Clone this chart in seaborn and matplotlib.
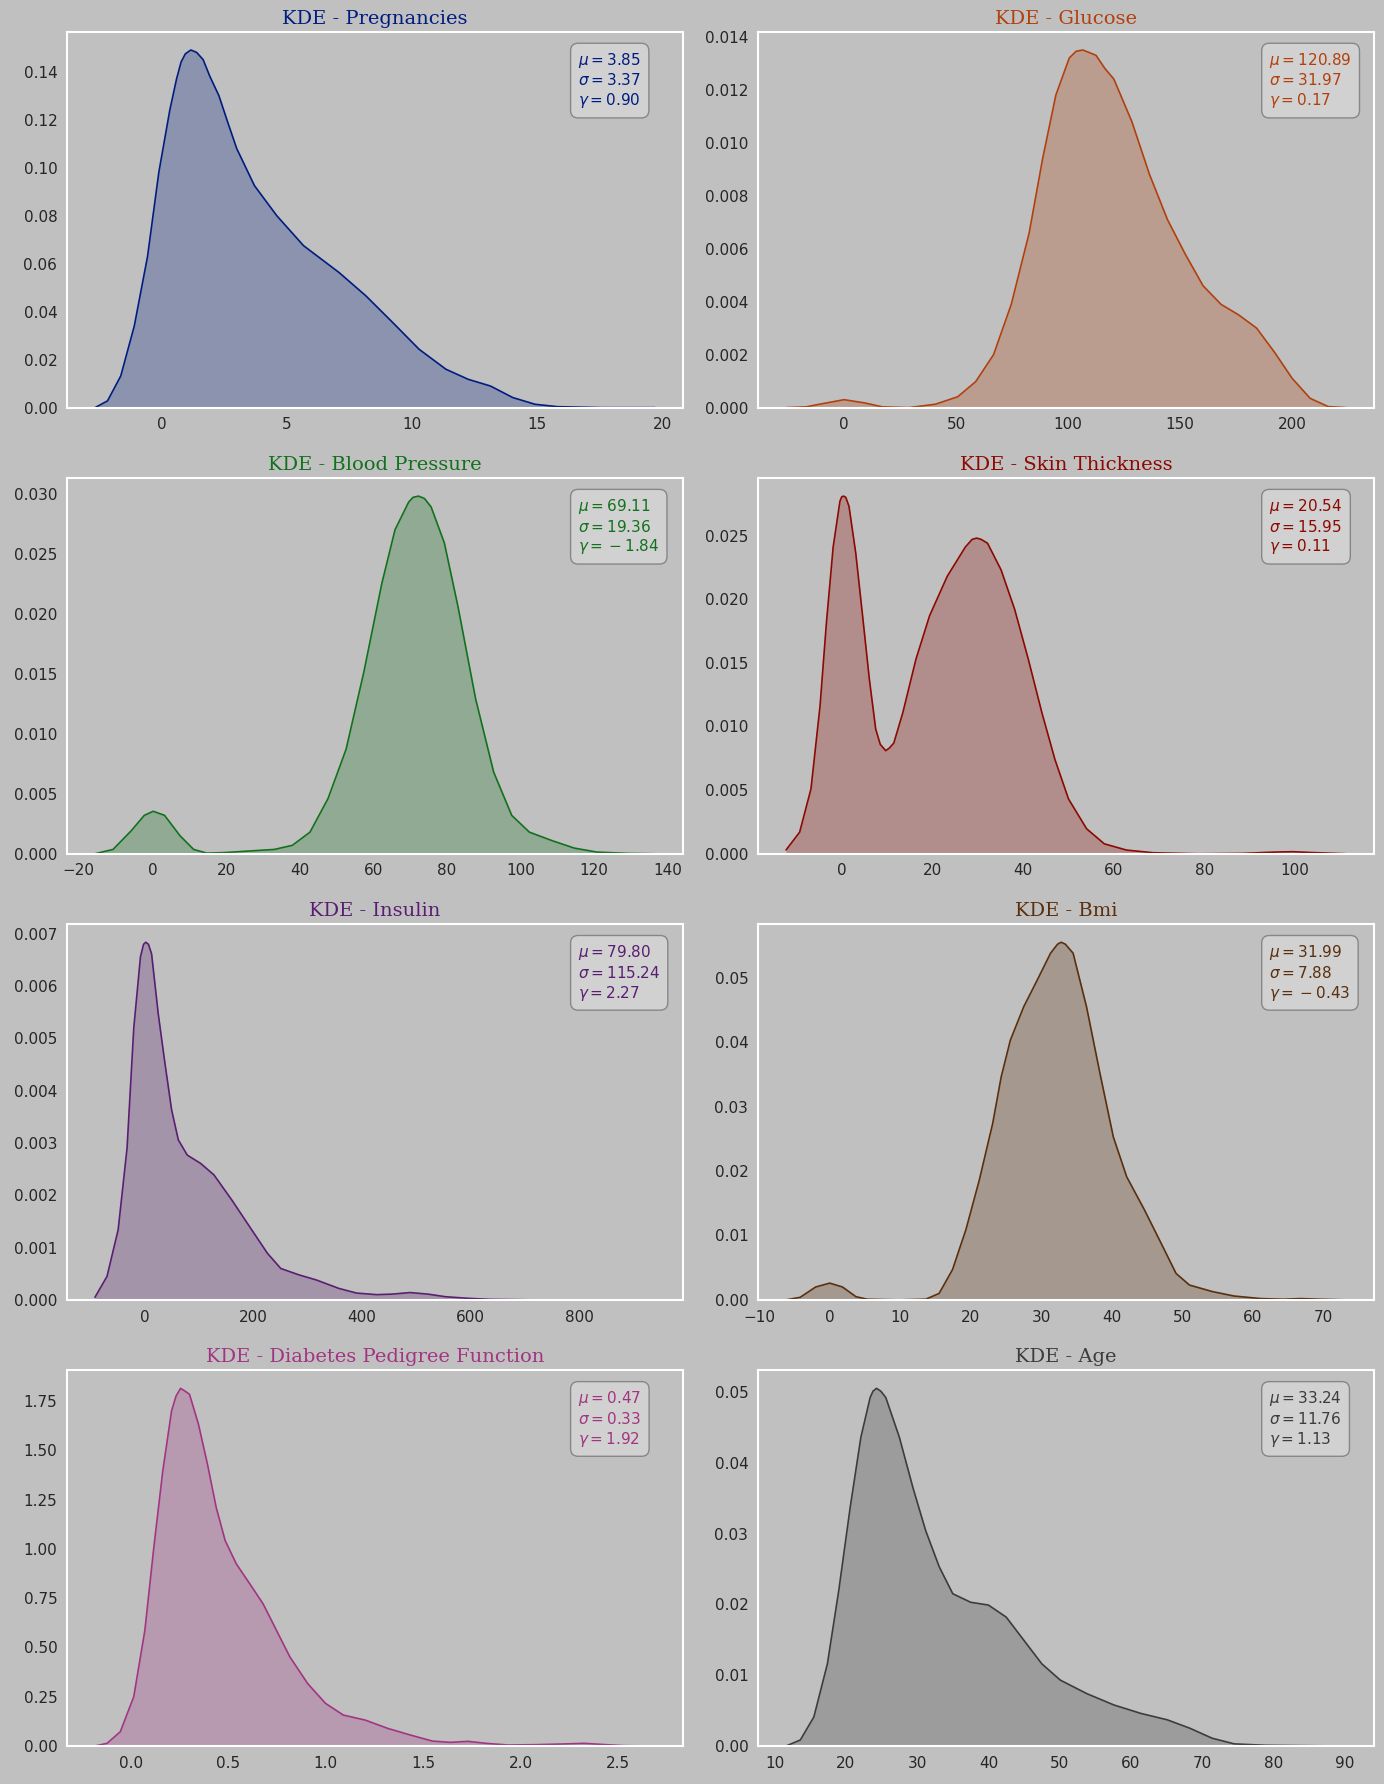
import matplotlib
matplotlib.use("Agg")
import matplotlib.pyplot as plt
import seaborn as sns

# density curves (x value, density)
preg_x = [-2.67, -2.17, -1.64, -1.10, -0.57, -0.12, 0.32, 0.59, 0.77, 0.94, 1.16, 1.39, 1.65, 1.92, 2.28,
          2.63, 2.99, 3.70, 4.59, 5.66, 7.08, 8.15, 9.22, 10.28, 11.35, 12.24, 13.13, 14.02, 14.91, 15.8,
          17.6, 19.7]
preg_d = [0.0, 0.0028, 0.0132, 0.034, 0.063, 0.098, 0.124, 0.137, 0.144, 0.1474, 0.149, 0.148, 0.145,
          0.138, 0.130, 0.119, 0.108, 0.0925, 0.080, 0.0675, 0.0563, 0.0466, 0.0355, 0.0243, 0.016, 0.0118,
          0.009, 0.0042, 0.0014, 0.0004, 0.0, 0.0]

gluc_x = [-25.9, -16.9, -10.9, 0, 9, 17, 28.9, 40.8, 50.7, 58.7, 66.7, 74.6, 82.6, 88.6, 94.5, 100.5,
          103.5, 106.5, 109.5, 112.4, 116.4, 120.4, 128.4, 136.3, 144.3, 152.2, 160.2, 168.2, 176.1, 184.1,
          192.0, 200, 208, 216, 224]
gluc_d = [0.0, 0.00003, 0.00013, 0.0003, 0.00018, 0.00003, 0.0, 0.00013, 0.00041, 0.00098, 0.0020, 0.0039,
          0.0066, 0.0094, 0.0118, 0.0132, 0.01345, 0.0135, 0.0134, 0.0133, 0.0128, 0.0124, 0.0108, 0.0088,
          0.0071, 0.0058, 0.0046, 0.0039, 0.0035, 0.0030, 0.0021, 0.0011, 0.00035, 0.00004, 0.0]

bp_x = [-15.6, -10.7, -5.8, -2.2, 0.2, 3.3, 7.5, 11.2, 14.8, 19.7, 25.8, 33.1, 38, 42.8, 47.7, 52.6, 57.4,
        62.3, 65.9, 69.6, 70.8, 72.3, 73.9, 75.7, 79.3, 83.0, 87.8, 92.7, 97.6, 102.4, 108.5, 114.6, 120.7,
        129.2, 136.5]
bp_d = [0.0, 0.00036, 0.0019, 0.0032, 0.00354, 0.0032, 0.0015, 0.00036, 0.00005, 0.0001, 0.00022, 0.00036,
        0.0007, 0.0018, 0.0046, 0.0087, 0.0151, 0.0225, 0.0270, 0.0293, 0.0297, 0.0298, 0.0296, 0.0289,
        0.0259, 0.0206, 0.0129, 0.0068, 0.0032, 0.0018, 0.0011, 0.00047, 0.00014, 0.00003, 0.0]

skin_x = [-12.4, -9.4, -6.9, -4.9, -3.5, -2.0, -0.5, -0.1, 0.3, 0.8, 1.5, 3.0, 4.5, 6.0, 7.4, 8.4, 9.6,
          10.4, 11.4, 13.4, 16.3, 19.3, 23.2, 27.2, 28.7, 29.7, 30.7, 32.1, 35.1, 38.1, 41.1, 44.1, 47.0,
          50.0, 54.0, 57.9, 62.8, 68.7, 78.6, 88.5, 95.4, 99.5, 103.4, 111.3]
skin_d = [0.0003, 0.0017, 0.0051, 0.0116, 0.0181, 0.0241, 0.0277, 0.02805, 0.0281, 0.0280, 0.0273, 0.0236,
          0.0187, 0.0137, 0.0098, 0.0086, 0.0081, 0.0083, 0.0087, 0.0111, 0.0153, 0.0187, 0.0218, 0.0241,
          0.0247, 0.0248, 0.0247, 0.0244, 0.0223, 0.0192, 0.0153, 0.0111, 0.0074, 0.0043, 0.00196, 0.00078,
          0.00029, 0.00008, 0.0, 0.00003, 0.00013, 0.00016, 0.0001, 0.0]

ins_x = [-92, -69.8, -49.3, -32.9, -20.5, -8.2, -2.5, 1.6, 6.6, 12.3, 24.6, 37, 49.3, 61.6, 78, 102.7,
         127.3, 160.2, 193, 225.9, 250.5, 283.4, 316.2, 357.3, 390.1, 427.1, 455.9, 488.7, 521.6, 554.4,
         595.5, 636.6, 718.7, 940]
ins_d = [0.00005, 0.00045, 0.00134, 0.0029, 0.0052, 0.00656, 0.0068, 0.00684, 0.0068, 0.00662, 0.00547,
         0.00452, 0.00363, 0.00306, 0.00277, 0.00261, 0.00239, 0.00191, 0.0014, 0.00089, 0.0006, 0.00048,
         0.00038, 0.00022, 0.00013, 0.0001, 0.00011, 0.00014, 0.00011, 0.00006, 0.00003, 0.00001, 0.0, 0.0]

bmi_x = [-6.2, -4.2, -2.0, 0, 1.8, 3.7, 5.3, 9.8, 13.6, 15.5, 17.4, 19.3, 21.2, 23.1, 24.3, 25.6, 27.5,
         29.4, 31.3, 32.3, 32.8, 33.4, 34.5, 36.4, 38.3, 40.2, 42.1, 44.6, 47.2, 49.1, 51.0, 54.2, 57.3,
         61.1, 64.3, 66.8, 69.4, 73.2]
bmi_d = [0.0, 0.0004, 0.002, 0.0026, 0.002, 0.0005, 0.0001, 0.0, 0.0001, 0.001, 0.0047, 0.0109, 0.0186,
         0.0274, 0.0346, 0.0403, 0.0455, 0.0496, 0.0538, 0.0552, 0.0555, 0.0552, 0.0538, 0.0455, 0.0352,
         0.0253, 0.0191, 0.014, 0.0083, 0.0041, 0.0023, 0.0013, 0.0006, 0.0002, 0.0001, 0.0002, 0.0001, 0.0]

dpf_x = [-0.183, -0.121, -0.053, 0.016, 0.073, 0.119, 0.165, 0.21, 0.233, 0.256, 0.279, 0.302, 0.348,
         0.394, 0.439, 0.485, 0.542, 0.611, 0.679, 0.748, 0.817, 0.908, 1.0, 1.091, 1.205, 1.32, 1.434,
         1.548, 1.64, 1.731, 1.823, 1.937, 2.075, 2.212, 2.326, 2.44, 2.53, 2.69]
dpf_d = [0.0, 0.0135, 0.0725, 0.25, 0.587, 1.008, 1.396, 1.70, 1.775, 1.814, 1.80, 1.784, 1.632, 1.43,
         1.21, 1.042, 0.924, 0.823, 0.722, 0.587, 0.452, 0.317, 0.216, 0.157, 0.131, 0.089, 0.056, 0.025,
         0.0185, 0.0236, 0.0135, 0.005, 0.0067, 0.0101, 0.0135, 0.0067, 0.0017, 0.0]

age_x = [11.6, 13.6, 15.5, 17.4, 19.0, 20.6, 22.1, 23.4, 23.8, 24.3, 24.9, 25.6, 27.5, 29.4, 31.2, 33.1,
         35.0, 37.5, 40.0, 42.5, 45.0, 47.5, 50.1, 53.8, 57.6, 61.4, 65.1, 68.3, 71.4, 74.5, 78.9, 84, 90.2]
age_d = [0.0, 0.00085, 0.0041, 0.0116, 0.022, 0.0337, 0.0436, 0.0492, 0.0501, 0.0505, 0.0501, 0.0492,
         0.0436, 0.0365, 0.0304, 0.0253, 0.0215, 0.0203, 0.0199, 0.0182, 0.0149, 0.0116, 0.0093, 0.0074,
         0.0058, 0.0046, 0.0037, 0.0025, 0.0011, 0.0003, 0.0001, 0.00005, 0.0]

names = ["Pregnancies", "Glucose", "Blood Pressure", "Skin Thickness",
         "Insulin", "Bmi", "Diabetes Pedigree Function", "Age"]
means = [3.85, 120.89, 69.11, 20.54, 79.80, 31.99, 0.47, 33.24]
stds = [3.37, 31.97, 19.36, 15.95, 115.24, 7.88, 0.33, 11.76]
skews = [0.90, 0.17, -1.84, 0.11, 2.27, -0.43, 1.92, 1.13]

curves = [(preg_x, preg_d), (gluc_x, gluc_d), (bp_x, bp_d), (skin_x, skin_d),
          (ins_x, ins_d), (bmi_x, bmi_d), (dpf_x, dpf_d), (age_x, age_d)]

sns.set_style("dark", {"axes.facecolor": "silver", "figure.facecolor": "silver",
                       "axes.edgecolor": "white", "axes.grid": False})
colors = sns.color_palette("dark", 8)


def fmt(v):
    # the empty group makes mathtext space the minus as a binary operator
    if v < 0:
        return r"{}-%.2f" % abs(v)
    return "%.2f" % v


fig, axes = plt.subplots(4, 2, figsize=(13.84, 17.84), dpi=100)
fig.subplots_adjust(left=0.0484, right=0.9928, top=0.982, bottom=0.0213, wspace=0.122, hspace=0.188)

for ax, name, (xs, ds), c, mu, sd, sk in zip(axes.flat, names, curves, colors, means, stds, skews):
    sns.lineplot(x=xs, y=ds, color=c, linewidth=1.2, ax=ax, sort=False)
    ax.fill_between(xs, ds, color=c, alpha=0.27, linewidth=0)
    ax.set_ylim(0, ax.get_ylim()[1])
    ax.set_title(f"KDE - {name}", fontsize=14, family="serif", color=c)
    ax.set_xlabel("")
    ax.set_ylabel("")
    ax.tick_params(labelsize=11)
    for sp in ax.spines.values():
        sp.set_color("white")
        sp.set_linewidth(1.5)
    txt = "\n".join([r"$\mu=%s$" % fmt(mu), r"$\sigma=%s$" % fmt(sd), r"$\gamma=%s$" % fmt(sk)])
    ax.text(0.83, 0.95, txt, transform=ax.transAxes, fontsize=11, color=c, va="top", ha="left",
            bbox=dict(boxstyle="round,pad=0.5", facecolor="lightgrey", edgecolor="grey", alpha=0.9))

plt.savefig("out.png", dpi=100, facecolor=fig.get_facecolor())
